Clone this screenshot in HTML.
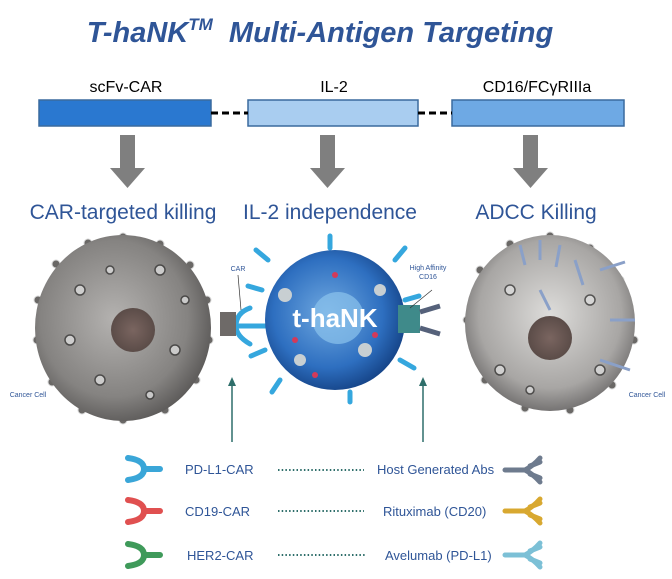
<!DOCTYPE html>
<html><head><meta charset="utf-8"><style>
body{margin:0;background:#fff;}
svg{display:block;font-family:"Liberation Sans",Arial,sans-serif;}
</style></head><body>
<svg width="672" height="579" viewBox="0 0 672 579" xmlns="http://www.w3.org/2000/svg">
<defs>
<radialGradient id="g1" cx="0.45" cy="0.45" r="0.6"><stop offset="0" stop-color="#b4b2b0"/><stop offset="0.7" stop-color="#858381"/><stop offset="1" stop-color="#555352"/></radialGradient>
<radialGradient id="g2" cx="0.5" cy="0.45" r="0.6"><stop offset="0" stop-color="#dddcda"/><stop offset="0.7" stop-color="#a8a6a4"/><stop offset="1" stop-color="#626060"/></radialGradient>
<radialGradient id="gb" cx="0.45" cy="0.45" r="0.6"><stop offset="0" stop-color="#6fa8e0"/><stop offset="0.65" stop-color="#2e6fc0"/><stop offset="1" stop-color="#123e80"/></radialGradient>
<radialGradient id="nu" cx="0.5" cy="0.5" r="0.5"><stop offset="0" stop-color="#7a6560"/><stop offset="1" stop-color="#5b4c48"/></radialGradient>
</defs>
<text x="320" y="42" text-anchor="middle" font-size="29" font-weight="bold" font-style="italic" fill="#2f5597">T-haNK<tspan dy="-12" font-size="17">TM</tspan><tspan dy="12" xml:space="preserve">  Multi-Antigen Targeting</tspan></text>

<text x="126" y="92" text-anchor="middle" font-size="16" fill="#000">scFv-CAR</text>
<text x="334" y="92" text-anchor="middle" font-size="16" fill="#000">IL-2</text>
<text x="537" y="92" text-anchor="middle" font-size="16" fill="#000">CD16/FCγRIIIa</text>
<rect x="39" y="100" width="172" height="26" fill="#2a78d0" stroke="#3a6a9e" stroke-width="1.5"/>
<rect x="248" y="100" width="170" height="26" fill="#a9cdf0" stroke="#3a6a9e" stroke-width="1.5"/>
<rect x="452" y="100" width="172" height="26" fill="#6ea9e4" stroke="#3a6a9e" stroke-width="1.5"/>
<line x1="211" y1="113" x2="248" y2="113" stroke="#000" stroke-width="3" stroke-dasharray="7,4"/>
<line x1="418" y1="113" x2="452" y2="113" stroke="#000" stroke-width="3" stroke-dasharray="7,4"/>
<g fill="#7f7f7f">
<polygon points="120,135 135,135 135,168 145,168 127.5,188 110,168 120,168"/>
<polygon points="320,135 335,135 335,168 345,168 327.5,188 310,168 320,168"/>
<polygon points="523,135 538,135 538,168 548,168 530.5,188 513,168 523,168"/>
</g>
<g font-size="21" fill="#2f5597">
<text x="123" y="219" text-anchor="middle">CAR-targeted killing</text>
<text x="330" y="219" text-anchor="middle">IL-2 independence</text>
<text x="536" y="219" text-anchor="middle">ADCC Killing</text>
</g>

<g fill="#6a6866" stroke="#d8d8d8" stroke-width="1">
<circle cx="123" cy="237" r="4"/><circle cx="160" cy="244" r="4"/><circle cx="190" cy="265" r="4"/><circle cx="207" cy="300" r="4"/><circle cx="209" cy="340" r="4"/><circle cx="196" cy="380" r="4"/><circle cx="165" cy="410" r="4"/><circle cx="123" cy="420" r="4"/><circle cx="82" cy="410" r="4"/><circle cx="52" cy="382" r="4"/><circle cx="37" cy="340" r="4"/><circle cx="38" cy="300" r="4"/><circle cx="56" cy="264" r="4"/><circle cx="88" cy="243" r="4"/>
<circle cx="550" cy="236" r="4"/><circle cx="590" cy="248" r="4"/><circle cx="620" cy="280" r="4"/><circle cx="634" cy="340" r="4"/><circle cx="612" cy="385" r="4"/><circle cx="570" cy="410" r="4"/><circle cx="525" cy="408" r="4"/><circle cx="485" cy="380" r="4"/><circle cx="467" cy="320" r="4"/><circle cx="480" cy="270" r="4"/><circle cx="510" cy="244" r="4"/>
</g>
<ellipse cx="123" cy="328" rx="88" ry="93" fill="url(#g1)"/>
<circle cx="133" cy="330" r="22" fill="url(#nu)"/>
<ellipse cx="550" cy="323" rx="85" ry="88" fill="url(#g2)"/>
<circle cx="550" cy="338" r="22" fill="url(#nu)"/>
<g fill="#dcdcdc" stroke="#3b3a39" stroke-width="1.5" opacity="0.8">
<circle cx="80" cy="290" r="5"/><circle cx="100" cy="380" r="5"/><circle cx="160" cy="270" r="5"/><circle cx="175" cy="350" r="5"/><circle cx="70" cy="340" r="5"/><circle cx="110" cy="270" r="4"/><circle cx="150" cy="395" r="4"/><circle cx="185" cy="300" r="4"/>
<circle cx="510" cy="290" r="5"/><circle cx="590" cy="300" r="5"/><circle cx="500" cy="370" r="5"/><circle cx="600" cy="370" r="5"/><circle cx="530" cy="390" r="4"/>
</g>
<g stroke="#8aa0c8" stroke-width="3" fill="none">
<path d="M520 245 l5 20 M540 240 l0 20 M560 245 l-4 22 M600 270 l25 -8 M610 320 l25 0 M600 360 l30 10 M575 260 l8 25 M540 290 l10 20"/>
</g>
<g stroke="#35a7de" stroke-width="5" fill="none" stroke-linecap="round">
<path d="M268 260 l-12 -10 M262 290 l-14 -4 M265 350 l-14 6 M280 380 l-8 12 M330 248 l0 -12 M395 260 l10 -12 M405 300 l14 -4 M400 360 l14 8 M350 392 l0 10"/>
<path d="M250 308 q-14 5 -14 18 q0 10 14 18 M236 326 l30 0"/>
</g>
<circle cx="335" cy="320" r="70" fill="url(#gb)"/>
<circle cx="338" cy="318" r="26" fill="#8cc3ec" opacity="0.7"/>
<g fill="#c8cfd2"><circle cx="285" cy="295" r="7"/><circle cx="365" cy="350" r="7"/><circle cx="300" cy="360" r="6"/><circle cx="380" cy="290" r="6"/></g>
<g fill="#d33a5a"><circle cx="335" cy="275" r="3"/><circle cx="295" cy="340" r="3"/><circle cx="375" cy="335" r="3"/><circle cx="315" cy="375" r="3"/></g>
<text x="335" y="327" text-anchor="middle" font-size="26" font-weight="bold" fill="#fff">t-haNK</text>
<rect x="398" y="305" width="22" height="28" fill="#3f8a8a"/>
<path d="M420 312 l20 -6 M420 328 l20 6" stroke="#55617a" stroke-width="5"/>
<rect x="220" y="312" width="16" height="24" fill="#6e6a68"/>

<text x="238" y="271" text-anchor="middle" font-size="7" fill="#2f5597">CAR</text>
<line x1="238" y1="275" x2="241" y2="310" stroke="#333" stroke-width="0.7"/>
<text x="428" y="270" text-anchor="middle" font-size="7" fill="#2f5597">High Affinity</text>
<text x="428" y="279" text-anchor="middle" font-size="7" fill="#2f5597">CD16</text>
<line x1="432" y1="290" x2="410" y2="308" stroke="#333" stroke-width="0.7"/>
<text x="28" y="397" text-anchor="middle" font-size="7" fill="#2f5597">Cancer Cell</text>
<text x="647" y="397" text-anchor="middle" font-size="7" fill="#2f5597">Cancer Cell</text>

<g stroke="#2e6e6a" stroke-width="1.5" fill="#2e6e6a">
<line x1="232" y1="442" x2="232" y2="382"/><polygon points="232,377 228,386 236,386" stroke="none"/>
<line x1="423" y1="442" x2="423" y2="382"/><polygon points="423,377 419,386 427,386" stroke="none"/>
</g>

<g stroke-width="6" fill="none" stroke-linecap="round">
<path d="M128 458 q16 2 16 11 q0 9 -16 11 M144 469 l16 0" stroke="#3aa6d8"/>
<path d="M128 500 q16 2 16 11 q0 9 -16 11 M144 511 l16 0" stroke="#e05050"/>
<path d="M128 544 q16 2 16 11 q0 9 -16 11 M144 555 l16 0" stroke="#3f9a5a"/>
<path d="M505 470 l20 0 q8 -4 15 -12 M525 470 q8 4 15 12 M530 466 l10 -4 M530 474 l10 4" stroke="#6e7b8e" stroke-width="5"/>
<path d="M505 511 l20 0 q8 -4 15 -12 M525 511 q8 4 15 12 M530 507 l10 -4 M530 515 l10 4" stroke="#d8a830" stroke-width="5"/>
<path d="M505 555 l20 0 q8 -4 15 -12 M525 555 q8 4 15 12 M530 551 l10 -4 M530 559 l10 4" stroke="#7cc0d6" stroke-width="5"/>
</g>
<g font-size="13" fill="#2f5597">
<text x="185" y="474">PD-L1-CAR</text>
<text x="185" y="516">CD19-CAR</text>
<text x="187" y="560">HER2-CAR</text>
<text x="377" y="474">Host Generated Abs</text>
<text x="383" y="516">Rituximab (CD20)</text>
<text x="385" y="560">Avelumab (PD-L1)</text>
</g>
<g stroke="#2e6e6a" stroke-width="2" stroke-dasharray="1.5,2.2">
<line x1="278" y1="470" x2="364" y2="470"/>
<line x1="278" y1="511" x2="364" y2="511"/>
<line x1="278" y1="555" x2="366" y2="555"/>
</g>
</svg>
</body></html>
